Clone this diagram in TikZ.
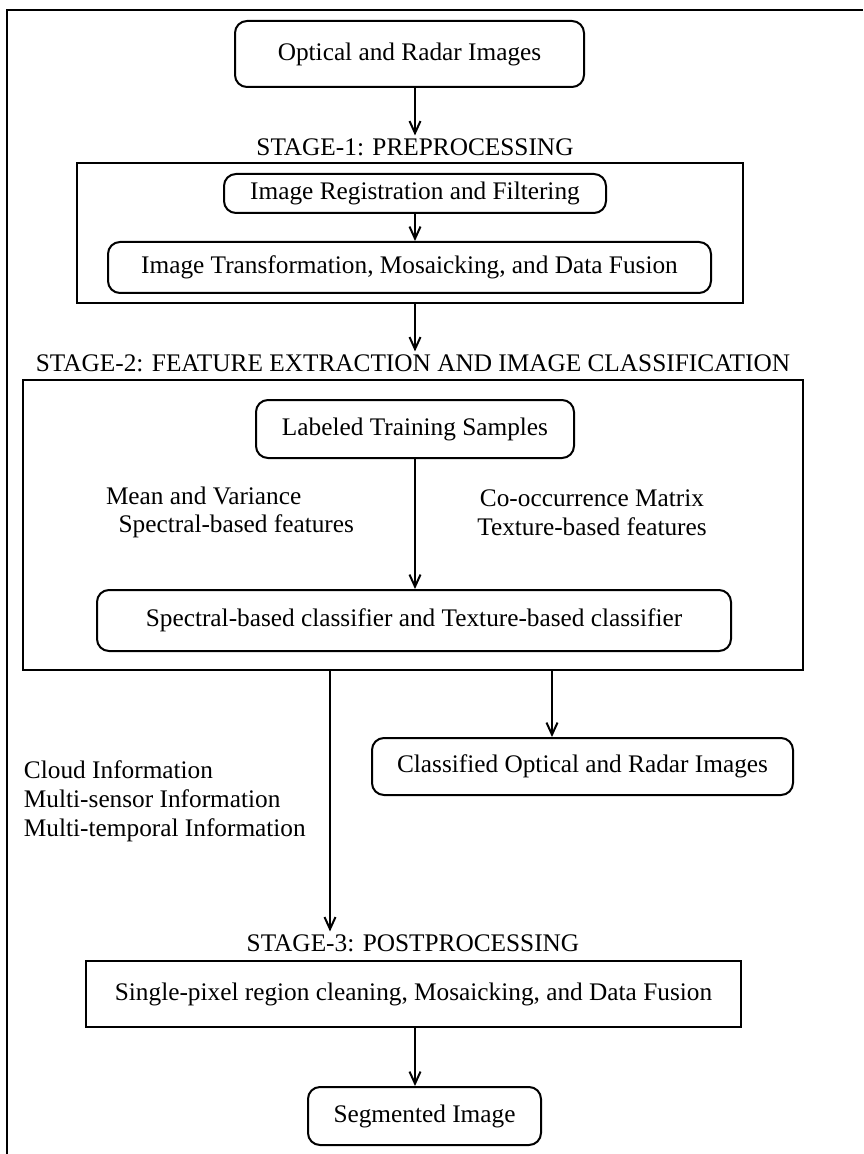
\documentclass[tikz,border=0pt]{standalone}
\usepackage{fontspec}
\setmainfont{Liberation Serif}
\usepackage{tikz}
\usetikzlibrary{arrows.meta}

\newcommand{\diagfont}{\fontsize{12.65pt}{14.4pt}\selectfont}

\begin{document}
\begin{tikzpicture}[x=0.5pt,y=0.5pt,yscale=-1,xscale=1,
  line width=1pt,
  every node/.style={font=\diagfont},
  rbox/.style={draw, rounded corners=6pt, inner sep=0pt, align=center},
  sbox/.style={draw, inner sep=0pt},
  frame/.style={draw, inner sep=0pt},
  lbl/.style={inner sep=1pt},
  arr/.style={-{Straight Barb[length=6pt,width=5.5pt]}}]
\useasboundingbox (0,0) rectangle (863,1154);

%Straight Lines (page frame)
\draw (7,1154) -- (7,10) -- (863,10) ;

%vertical arrow lines
\coordinate (axis) at (415,0);
\coordinate (axisL) at (330,0);
\coordinate (axisR) at (552,0);

%Shape: Rounded Rectangle
\node[rbox, minimum width=174.5pt, minimum height=33pt] (optical) at (409.5,54) {Optical and Radar Images};

% Text Node
\node[lbl] (lblA) at (415,147) {STAGE-1: PREPROCESSING};
%Shape: Rectangle
\node[frame, minimum width=333pt, minimum height=70pt] (stageA) at (410,233) {};
%Shape: Rounded Rectangle
\node[rbox, minimum width=191pt, minimum height=19.5pt] (reg) at (415,193.5) {Image Registration and Filtering};
%Shape: Rounded Rectangle
\node[rbox, minimum width=301.5pt, minimum height=25.5pt] (trans) at (409.5,267.5) {Image Transformation, Mosaicking, and Data Fusion};

% Text Node
\node[lbl] (lblB) at (413,363) {STAGE-2: FEATURE EXTRACTION AND IMAGE CLASSIFICATION};
%Shape: Rectangle
\node[frame, minimum width=390pt, minimum height=145pt] (stageB) at (413,525) {};
%Shape: Rounded Rectangle
\node[rbox, minimum width=159pt, minimum height=29pt] (train) at (415,429) {Labeled Training Samples};
% Text Node
\node[lbl, align=left, anchor=west] (spec) at (103,512.5) {Mean and Variance\\ \ \ Spectral-based features};
% Text Node
\node[lbl, align=center] (tex) at (592,512.5) {Co-occurrence Matrix\\Texture-based features};
%Shape: Rounded Rectangle
\node[rbox, minimum width=317pt, minimum height=30.5pt] (clf) at (414,620.5) {Spectral-based classifier and Texture-based classifier};

%Shape: Rounded Rectangle
\node[rbox, minimum width=210.5pt, minimum height=28.5pt] (cls) at (582.5,766.5) {Classified Optical and Radar Images};
% Text Node
\node[lbl, align=left, anchor=west] (aux) at (21,801.5) {Cloud Information\\Multi-sensor Information\\Multi-temporal Information};

% Text Node
\node[lbl] (lblC) at (413,943) {STAGE-3: POSTPROCESSING};
%Shape: Rectangle
\node[sbox, minimum width=327.5pt, minimum height=33pt] (post) at (413.5,994) {Single-pixel region cleaning, Mosaicking, and Data Fusion};
%Shape: Rounded Rectangle
\node[rbox, minimum width=116.5pt, minimum height=29pt] (seg) at (424.5,1116) {Segmented Image};

%Arrows
\draw[arr] (optical.south -| axis) -- (lblA.north -| axis) ;
\draw[arr] (reg.south -| axis) -- (trans.north -| axis) ;
\draw[arr] (stageA.south -| axis) -- (lblB.north -| axis) ;
\draw[arr] (train.south -| axis) -- (clf.north -| axis) ;
\draw[arr] (stageB.south -| axisR) -- (cls.north -| axisR) ;
\draw[arr] (stageB.south -| axisL) -- (lblC.north -| axisL) ;
\draw[arr] (post.south -| axis) -- (seg.north -| axis) ;

\end{tikzpicture}
\end{document}
